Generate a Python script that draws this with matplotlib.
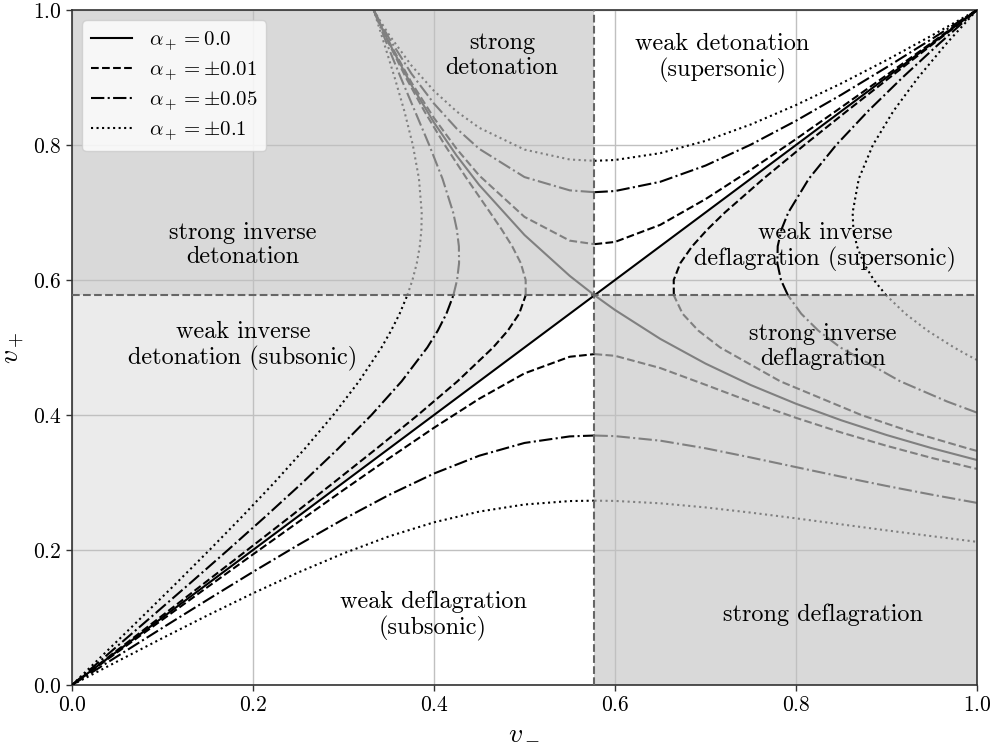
import numpy as np
import matplotlib
matplotlib.use("Agg")
import matplotlib.pyplot as plt

plt.rcParams["font.family"] = "serif"
plt.rcParams["font.serif"] = ["cmr10", "DejaVu Serif"]
plt.rcParams["mathtext.fontset"] = "cm"
plt.rcParams["axes.formatter.use_mathtext"] = True

CS = 0.57735  # sound speed 1/sqrt(3)

# alpha_+ > 0: lower (deflagration) branch, sampled in v_-
x_def = [0.0, 0.05, 0.1, 0.15, 0.2, 0.25, 0.3, 0.35, 0.4, 0.45, 0.5, 0.55,
         0.57735, 0.6, 0.65, 0.7, 0.75, 0.8, 0.85, 0.9, 0.95, 1.0]
y_lo_p01 = [0.0, 0.0485, 0.0969, 0.1453, 0.1935, 0.2414, 0.2889, 0.3356, 0.3811,
            0.4241, 0.4617, 0.4863, 0.4902, 0.4877, 0.4696, 0.4448, 0.4195, 0.3958,
            0.3741, 0.3544, 0.3364, 0.3201]
y_lo_p05 = [0.0, 0.0425, 0.0847, 0.1265, 0.1676, 0.2075, 0.2457, 0.2814, 0.3133,
            0.3397, 0.3586, 0.3683, 0.3696, 0.3687, 0.3620, 0.3507, 0.3371, 0.3228,
            0.3086, 0.2949, 0.2820, 0.2698]
y_lo_p10 = [0.0, 0.0349, 0.0695, 0.1033, 0.1359, 0.1667, 0.1950, 0.2201, 0.2410,
            0.2569, 0.2674, 0.2725, 0.2731, 0.2727, 0.2692, 0.2631, 0.2554, 0.2469,
            0.2380, 0.2291, 0.2205, 0.2121]

# alpha_+ >= 0: upper (detonation) branch
x_det = [0.33333, 0.34, 0.35, 0.375, 0.4, 0.425, 0.45, 0.5, 0.55, 0.57735, 0.6,
         0.65, 0.7, 0.75, 0.8, 0.85, 0.9, 0.95, 1.0]
y_up_00 = [1.0, 0.9804, 0.9524, 0.8889, 0.8333, 0.7843, 0.7407, 0.6667, 0.6061,
           0.5774, 0.5556, 0.5128, 0.4762, 0.4444, 0.4167, 0.3922, 0.3704, 0.3509,
           0.3333]
y_up_p01 = [1.0, 0.9810, 0.9539, 0.8928, 0.8400, 0.7943, 0.7548, 0.6935, 0.6583,
            0.6531, 0.6564, 0.6817, 0.7198, 0.7631, 0.8088, 0.8558, 0.9034, 0.9516,
            1.0]
y_up_p05 = [1.0, 0.9830, 0.9590, 0.9058, 0.8613, 0.8244, 0.7943, 0.7525, 0.7328,
            0.7301, 0.7318, 0.7455, 0.7695, 0.8005, 0.8359, 0.8744, 0.9150, 0.9570,
            1.0]
y_up_p10 = [1.0, 0.9850, 0.9639, 0.9179, 0.8802, 0.8497, 0.8255, 0.7932, 0.7785,
            0.7766, 0.7778, 0.7879, 0.8061, 0.8304, 0.8592, 0.8912, 0.9257, 0.9622,
            1.0]

# alpha_+ < 0: left (inverse detonation) curves, sampled in v_+
y_inv = [0.0, 0.05, 0.1, 0.15, 0.2, 0.25, 0.3, 0.35, 0.4, 0.45, 0.5, 0.525, 0.55,
         0.57735, 0.6, 0.625, 0.65, 0.675, 0.7, 0.75, 0.8, 0.85, 0.9, 0.95, 1.0]
x_left_m01 = [0.0, 0.0485, 0.0970, 0.1454, 0.1937, 0.2417, 0.2893, 0.3363, 0.3822,
              0.4260, 0.4653, 0.4816, 0.4941, 0.5013, 0.5013, 0.4959, 0.4864, 0.4747,
              0.4620, 0.4363, 0.4119, 0.3894, 0.3689, 0.3503, 0.3333]
x_left_m05 = [0.0, 0.0435, 0.0868, 0.1298, 0.1723, 0.2141, 0.2549, 0.2940, 0.3309,
              0.3643, 0.3926, 0.4042, 0.4137, 0.4214, 0.4255, 0.4277, 0.4275, 0.4252,
              0.4212, 0.4094, 0.3947, 0.3790, 0.3632, 0.3479, 0.3333]
x_left_m10 = [0.0, 0.0384, 0.0767, 0.1146, 0.1519, 0.1883, 0.2236, 0.2572, 0.2887,
              0.3172, 0.3420, 0.3526, 0.3620, 0.3705, 0.3762, 0.3810, 0.3843, 0.3861,
              0.3864, 0.3834, 0.3766, 0.3673, 0.3565, 0.3450, 0.3333]

# alpha_+ < 0: right (inverse deflagration) curves
y_right_m01 = [0.3468, 0.35, 0.375, 0.4, 0.45, 0.5, 0.525, 0.55, 0.57735, 0.6,
               0.625, 0.65, 0.675, 0.7, 0.75, 0.8, 0.85, 0.9, 0.95, 1.0]
x_right_m01 = [1.0, 0.9911, 0.9274, 0.8721, 0.7825, 0.7163, 0.6921, 0.6747, 0.6650,
               0.6649, 0.6722, 0.6853, 0.7022, 0.7214, 0.7640, 0.8093, 0.8560, 0.9036,
               0.9516, 1.0]
y_right_m05 = [0.4035, 0.42, 0.45, 0.5, 0.525, 0.55, 0.57735, 0.6, 0.625, 0.65,
               0.675, 0.7, 0.75, 0.8, 0.85, 0.9, 0.95, 1.0]
x_right_m05 = [1.0, 0.9670, 0.9151, 0.8491, 0.8247, 0.8058, 0.7911, 0.7834, 0.7794,
               0.7798, 0.7840, 0.7915, 0.8142, 0.8444, 0.8795, 0.9177, 0.9581, 1.0]
y_right_m10 = [0.4815, 0.49, 0.5, 0.525, 0.55, 0.57735, 0.6, 0.625, 0.65, 0.675,
               0.7, 0.75, 0.8, 0.85, 0.9, 0.95, 1.0]
x_right_m10 = [1.0, 0.9880, 0.9747, 0.9453, 0.9209, 0.8997, 0.8860, 0.8748, 0.8674,
               0.8634, 0.8626, 0.8694, 0.8850, 0.9075, 0.9350, 0.9661, 1.0]

styles = {"0.0": "-", "0.01": "--", "0.05": "-.", "0.1": ":"}
BLACK, GRAY = "black", "0.5"
LW = 1.5

fig = plt.figure(figsize=(9.96, 7.47), dpi=100)
ax = fig.add_axes([0.0723, 0.083, 0.9086, 0.9036])

# regions
ax.fill([0, CS, CS, 0], [CS, CS, 1, 1], color="0.85", lw=0, zorder=0)
ax.fill([CS, 1, 1, CS], [0, 0, CS, CS], color="0.85", lw=0, zorder=0)
ax.fill([0, 0, CS], [0, CS, CS], color="0.92", lw=0, zorder=0)
ax.fill([CS, 1, 1], [CS, CS, 1], color="0.92", lw=0, zorder=0)


def plot_split(xs, ys, key, ls, below_color, above_color, label=None):
    xs, ys, key = np.asarray(xs), np.asarray(ys), np.asarray(key)
    lo = key <= CS + 1e-9
    hi = key >= CS - 1e-9
    ax.plot(xs[lo], ys[lo], ls=ls, color=below_color, lw=LW, zorder=3 if below_color == BLACK else 2,
            label=label if below_color == BLACK else None)
    ax.plot(xs[hi], ys[hi], ls=ls, color=above_color, lw=LW, zorder=3 if above_color == BLACK else 2,
            label=label if above_color == BLACK else None)


# alpha = 0
ax.plot([0, 1], [0, 1], ls="-", color=BLACK, lw=LW, zorder=3, label=r"$\alpha_+ = 0.0$")
ax.plot(x_det, y_up_00, ls="-", color=GRAY, lw=LW, zorder=2)

# alpha > 0
for ylo, yup, key, lab in [(y_lo_p01, y_up_p01, "0.01", r"$\alpha_+ = \pm 0.01$"),
                           (y_lo_p05, y_up_p05, "0.05", r"$\alpha_+ = \pm 0.05$"),
                           (y_lo_p10, y_up_p10, "0.1", r"$\alpha_+ = \pm 0.1$")]:
    plot_split(x_def, ylo, x_def, styles[key], BLACK, GRAY, label=lab)
    plot_split(x_det, yup, x_det, styles[key], GRAY, BLACK)

# alpha < 0
for xl, yr, xr, key in [(x_left_m01, y_right_m01, x_right_m01, "0.01"),
                        (x_left_m05, y_right_m05, x_right_m05, "0.05"),
                        (x_left_m10, y_right_m10, x_right_m10, "0.1")]:
    plot_split(xl, y_inv, y_inv, styles[key], BLACK, GRAY)
    plot_split(xr, yr, yr, styles[key], GRAY, BLACK)

ax.axvline(CS, ls="--", color="0.4", lw=1.5, zorder=4)
ax.axhline(CS, ls="--", color="0.4", lw=1.5, zorder=4)

labels = [
    (0.475, 0.933, "strong\ndetonation"),
    (0.719, 0.929, "weak detonation\n(supersonic)"),
    (0.189, 0.652, "strong inverse\ndetonation"),
    (0.189, 0.502, "weak inverse\ndetonation (subsonic)"),
    (0.832, 0.649, "weak inverse\ndeflagration (supersonic)"),
    (0.830, 0.502, "strong inverse\ndeflagration"),
    (0.399, 0.102, "weak deflagration\n(subsonic)"),
    (0.830, 0.104, "strong deflagration"),
]
for x, y, s in labels:
    ax.text(x, y, s, ha="center", va="center", fontsize=17.5, linespacing=1.15, zorder=5)

ax.set_xlim(0, 1)
ax.set_ylim(0, 1)
ax.set_xticks(np.arange(0, 1.01, 0.2))
ax.set_yticks(np.arange(0, 1.01, 0.2))
ax.tick_params(labelsize=15.5, length=4, width=1, color="0.2")
ax.grid(True, color="#c0c0c0", lw=1)
ax.set_axisbelow(True)
for sp in ax.spines.values():
    sp.set_color("0.2")
    sp.set_linewidth(1.2)
ax.set_xlabel(r"$v_-$", fontsize=20, labelpad=2)
ax.set_ylabel(r"$v_+$", fontsize=20, labelpad=4)

ax.legend(loc="upper left", fontsize=15, framealpha=0.8, labelspacing=0.3,
          handlelength=2.0, borderpad=0.4)

fig.savefig("out.png", dpi=100)
